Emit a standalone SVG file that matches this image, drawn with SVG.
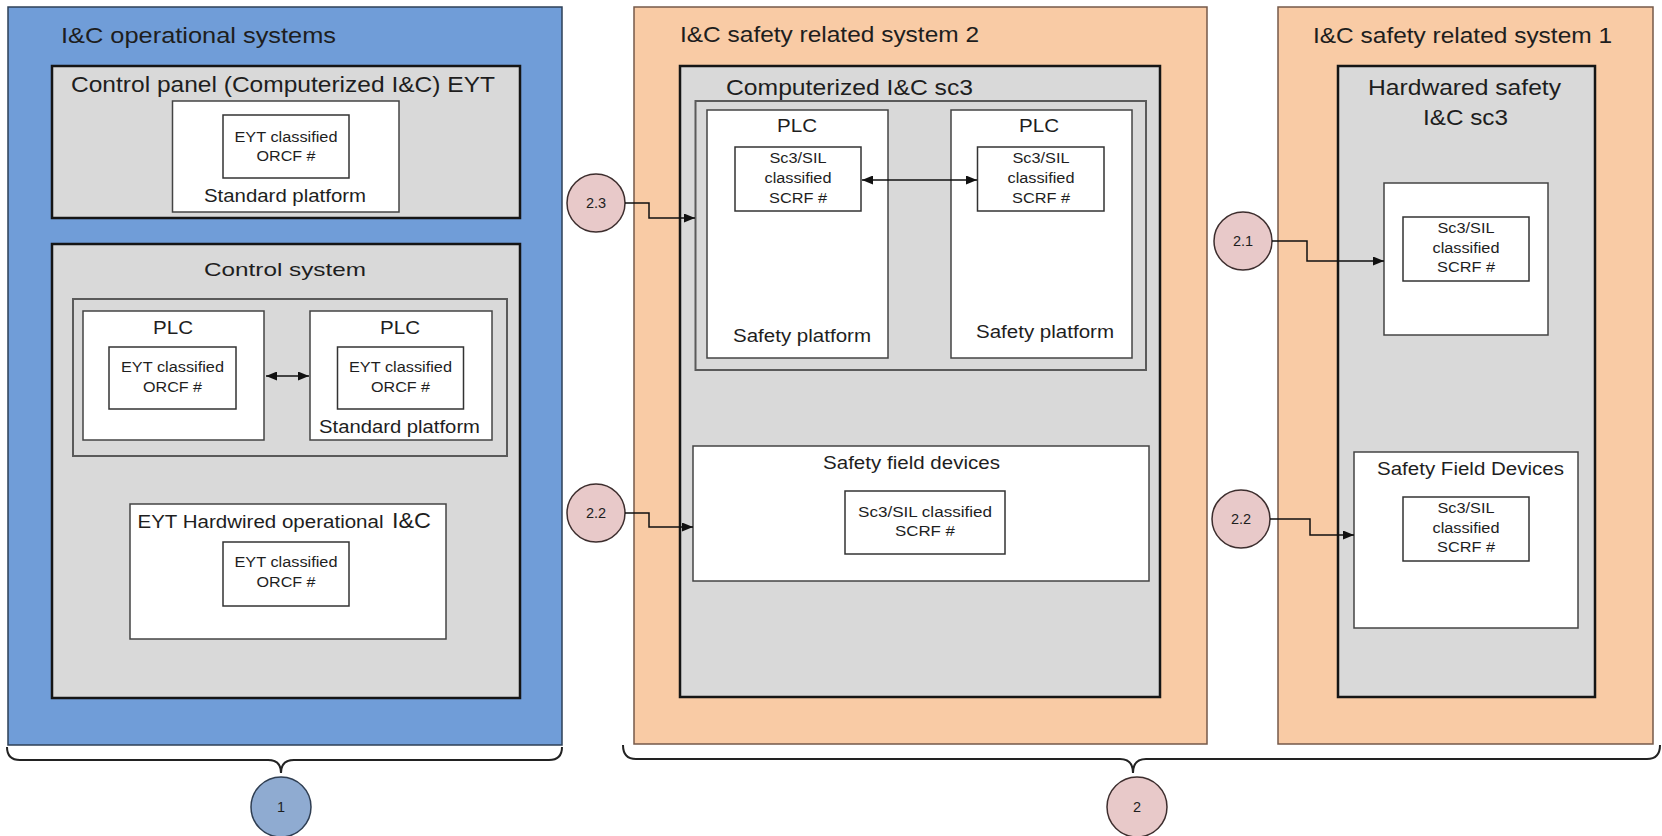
<svg xmlns="http://www.w3.org/2000/svg" width="1662" height="836" viewBox="0 0 1662 836">
  <defs>
    <style>
      text { font-family: "Liberation Sans", Arial, sans-serif; fill: #1e1e1e; }
      .big { font-size: 21.5px; }
      .mid { font-size: 17.5px; }
      .sm  { font-size: 14px; }
      .num { font-size: 14.5px; text-anchor: middle; }
      .blue  { fill: #709dd8; stroke: #2e4057; stroke-width: 1.5; }
      .peach { fill: #f9cba5; stroke: #75594a; stroke-width: 1.5; }
      .grey  { fill: #d9d9d9; stroke: #151515; stroke-width: 2.5; }
      .grey2 { fill: #d9d9d9; stroke: #5a5a5a; stroke-width: 2; }
      .white { fill: #ffffff; stroke: #444444; stroke-width: 1.5; }
      .cls   { fill: #ffffff; stroke: #333333; stroke-width: 1.5; }
      .conn  { fill: none; stroke: #111111; stroke-width: 1.5; }
      .brace { fill: none; stroke: #222222; stroke-width: 2; }
      .c1 { fill: #8fabd1; stroke: #2f3e52; stroke-width: 1.5; }
      .c2 { fill: #e8c9c9; stroke: #3d2e2e; stroke-width: 1.5; }
    </style>
    <marker id="arrow" markerUnits="userSpaceOnUse" markerWidth="11" markerHeight="9" refX="11" refY="4.5" orient="auto-start-reverse">
      <path d="M0,0 L11,4.5 L0,9 z" fill="#111111"/>
    </marker>
  </defs>

  <!-- 1: operational systems -->
  <g id="operational-systems">
    <rect class="blue" x="8" y="7" width="554" height="738"/>
    <text class="big" x="61" y="43" textLength="275" lengthAdjust="spacingAndGlyphs">I&amp;C operational systems</text>
  </g>

  <g id="control-panel">
    <rect class="grey" x="52" y="66" width="468" height="152"/>
    <text class="big" x="71" y="92" textLength="424" lengthAdjust="spacingAndGlyphs">Control panel (Computerized I&amp;C) EYT</text>
    <rect class="white" x="172.5" y="101" width="226.5" height="111"/>
    <rect class="cls" x="223" y="115" width="126" height="63"/>
    <text class="sm" x="234.5" y="142" textLength="103" lengthAdjust="spacingAndGlyphs">EYT classified</text>
    <text class="sm" x="256.5" y="161" textLength="59" lengthAdjust="spacingAndGlyphs">ORCF #</text>
    <text class="mid" x="204" y="202" textLength="162" lengthAdjust="spacingAndGlyphs">Standard platform</text>
  </g>

  <g id="control-system">
    <rect class="grey" x="52" y="244" width="468" height="454"/>
    <text class="mid" style="font-size:19px" x="204" y="276" textLength="162" lengthAdjust="spacingAndGlyphs">Control system</text>
    <rect class="grey2" x="73" y="299" width="434" height="157"/>
  </g>

  <g id="control-plc-a">
    <rect class="white" x="83" y="311" width="181" height="129"/>
    <text class="mid" x="153" y="334" textLength="40" lengthAdjust="spacingAndGlyphs">PLC</text>
    <rect class="cls" x="109" y="347" width="127" height="62"/>
    <text class="sm" x="121" y="372" textLength="103" lengthAdjust="spacingAndGlyphs">EYT classified</text>
    <text class="sm" x="143" y="392" textLength="59" lengthAdjust="spacingAndGlyphs">ORCF #</text>
  </g>

  <g id="control-plc-b">
    <rect class="white" x="310" y="311" width="182" height="129"/>
    <text class="mid" x="380" y="334" textLength="40" lengthAdjust="spacingAndGlyphs">PLC</text>
    <rect class="cls" x="337.5" y="347" width="126" height="62"/>
    <text class="sm" x="349" y="372" textLength="103" lengthAdjust="spacingAndGlyphs">EYT classified</text>
    <text class="sm" x="371" y="392" textLength="59" lengthAdjust="spacingAndGlyphs">ORCF #</text>
    <text class="mid" x="319" y="433" textLength="161" lengthAdjust="spacingAndGlyphs">Standard platform</text>
  </g>

  <g id="hardwired-operational">
    <rect class="white" x="130" y="504" width="316" height="135"/>
    <text class="mid" x="137.5" y="528" textLength="246" lengthAdjust="spacingAndGlyphs">EYT Hardwired operational</text>
    <text class="big" style="font-size:22px" x="392" y="528" textLength="39" lengthAdjust="spacingAndGlyphs">I&amp;C</text>
    <rect class="cls" x="223" y="542" width="126" height="64"/>
    <text class="sm" x="234.5" y="567" textLength="103" lengthAdjust="spacingAndGlyphs">EYT classified</text>
    <text class="sm" x="256.5" y="587" textLength="59" lengthAdjust="spacingAndGlyphs">ORCF #</text>
  </g>

  <!-- 2: safety related system 2 -->
  <g id="safety-system-2">
    <rect class="peach" x="634" y="7" width="573" height="737"/>
    <text class="big" x="680" y="42" textLength="299" lengthAdjust="spacingAndGlyphs">I&amp;C safety related system 2</text>
    <rect class="grey" x="680" y="66" width="480" height="631"/>
    <text class="big" x="726" y="95" textLength="247" lengthAdjust="spacingAndGlyphs">Computerized I&amp;C sc3</text>
    <rect class="grey2" x="695.5" y="101" width="450.5" height="269"/>
  </g>

  <g id="safety-plc-a">
    <rect class="white" x="707" y="110" width="181" height="248"/>
    <text class="mid" x="777" y="132" textLength="40" lengthAdjust="spacingAndGlyphs">PLC</text>
    <rect class="cls" x="735" y="147" width="126" height="64"/>
    <text class="sm" x="769.5" y="163" textLength="57" lengthAdjust="spacingAndGlyphs">Sc3/SIL</text>
    <text class="sm" x="764.5" y="183" textLength="67" lengthAdjust="spacingAndGlyphs">classified</text>
    <text class="sm" x="769" y="203" textLength="58" lengthAdjust="spacingAndGlyphs">SCRF #</text>
    <text class="mid" x="733" y="342" textLength="138" lengthAdjust="spacingAndGlyphs">Safety platform</text>
  </g>

  <g id="safety-plc-b">
    <rect class="white" x="951" y="110" width="181" height="248"/>
    <text class="mid" x="1019" y="132" textLength="40" lengthAdjust="spacingAndGlyphs">PLC</text>
    <rect class="cls" x="977.5" y="147" width="126.5" height="64"/>
    <text class="sm" x="1012.5" y="163" textLength="57" lengthAdjust="spacingAndGlyphs">Sc3/SIL</text>
    <text class="sm" x="1007.5" y="183" textLength="67" lengthAdjust="spacingAndGlyphs">classified</text>
    <text class="sm" x="1012" y="203" textLength="58" lengthAdjust="spacingAndGlyphs">SCRF #</text>
    <text class="mid" x="976" y="338" textLength="138" lengthAdjust="spacingAndGlyphs">Safety platform</text>
  </g>

  <g id="safety-field-devices-2">
    <rect class="white" x="693" y="446" width="456" height="135"/>
    <text class="mid" x="823" y="469" textLength="177" lengthAdjust="spacingAndGlyphs">Safety field devices</text>
    <rect class="cls" x="845" y="491" width="160" height="63"/>
    <text class="sm" x="858" y="517" textLength="134" lengthAdjust="spacingAndGlyphs">Sc3/SIL classified</text>
    <text class="sm" x="895" y="536" textLength="60" lengthAdjust="spacingAndGlyphs">SCRF #</text>
  </g>

  <!-- 2: safety related system 1 -->
  <g id="safety-system-1">
    <rect class="peach" x="1278" y="7" width="375" height="737"/>
    <text class="big" x="1313" y="43" textLength="299" lengthAdjust="spacingAndGlyphs">I&amp;C safety related system 1</text>
    <rect class="grey" x="1338" y="66" width="257" height="631"/>
    <text class="big" x="1368" y="95" textLength="193" lengthAdjust="spacingAndGlyphs">Hardwared safety</text>
    <text class="big" x="1423" y="125" textLength="85" lengthAdjust="spacingAndGlyphs">I&amp;C sc3</text>
  </g>

  <g id="hardwired-safety">
    <rect class="white" x="1384" y="183" width="164" height="152"/>
    <rect class="cls" x="1403" y="217" width="126" height="64"/>
    <text class="sm" x="1437.5" y="233" textLength="57" lengthAdjust="spacingAndGlyphs">Sc3/SIL</text>
    <text class="sm" x="1432.5" y="253" textLength="67" lengthAdjust="spacingAndGlyphs">classified</text>
    <text class="sm" x="1437" y="272" textLength="58" lengthAdjust="spacingAndGlyphs">SCRF #</text>
  </g>

  <g id="safety-field-devices-1">
    <rect class="white" x="1354" y="452" width="224" height="176"/>
    <text class="mid" x="1377" y="475" textLength="187" lengthAdjust="spacingAndGlyphs">Safety Field Devices</text>
    <rect class="cls" x="1403" y="497" width="126" height="64"/>
    <text class="sm" x="1437.5" y="513" textLength="57" lengthAdjust="spacingAndGlyphs">Sc3/SIL</text>
    <text class="sm" x="1432.5" y="533" textLength="67" lengthAdjust="spacingAndGlyphs">classified</text>
    <text class="sm" x="1437" y="552" textLength="58" lengthAdjust="spacingAndGlyphs">SCRF #</text>
  </g>

  <!-- numbered markers -->
  <g id="marker-1">
    <circle class="c1" cx="281" cy="807" r="30"/>
    <text class="num" x="281" y="812">1</text>
  </g>
  <g id="marker-2">
    <circle class="c2" cx="1137" cy="807" r="30"/>
    <text class="num" x="1137" y="812">2</text>
  </g>
  <g id="marker-2-3">
    <circle class="c2" cx="596" cy="203" r="29"/>
    <text class="num" x="596" y="208">2.3</text>
  </g>
  <g id="marker-2-2-a">
    <circle class="c2" cx="596" cy="513" r="29"/>
    <text class="num" x="596" y="518">2.2</text>
  </g>
  <g id="marker-2-1">
    <circle class="c2" cx="1243" cy="241" r="29"/>
    <text class="num" x="1243" y="246">2.1</text>
  </g>
  <g id="marker-2-2-b">
    <circle class="c2" cx="1241" cy="519" r="29"/>
    <text class="num" x="1241" y="524">2.2</text>
  </g>

  <!-- connectors and braces -->
  <g id="connectors">
    <path class="conn" d="M266,376 H309" marker-start="url(#arrow)" marker-end="url(#arrow)"/>
    <path class="conn" d="M862,180 H977" marker-start="url(#arrow)" marker-end="url(#arrow)"/>
    <path class="conn" d="M625,203 H649 V218 H695" marker-end="url(#arrow)"/>
    <path class="conn" d="M625,513 H649 V527 H693" marker-end="url(#arrow)"/>
    <path class="conn" d="M1272,241 H1307 V261 H1384" marker-end="url(#arrow)"/>
    <path class="conn" d="M1270,519 H1310 V535 H1354" marker-end="url(#arrow)"/>
    <path class="brace" d="M7,747 Q7,760 20,760 L268,760 Q281,760 281,773 Q281,760 294,760 L549,760 Q562,760 562,747"/>
    <path class="brace" d="M623,745 Q623,759 636,759 L1120,759 Q1133,759 1133,773 Q1133,759 1146,759 L1647,759 Q1660,759 1660,745"/>
  </g>
</svg>
